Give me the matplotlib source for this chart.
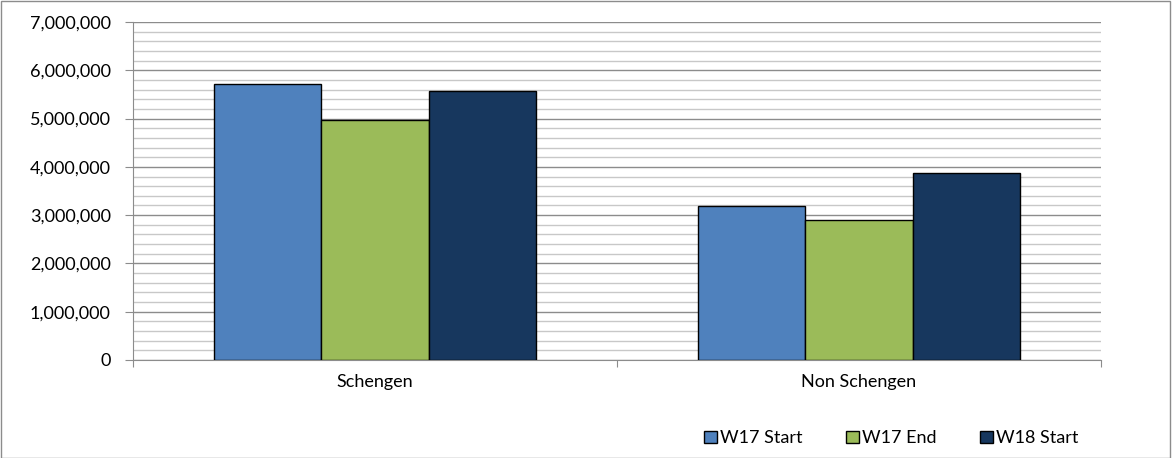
import numpy as np
import matplotlib.pyplot as plt
from matplotlib.ticker import FuncFormatter, MultipleLocator
from matplotlib.patches import Rectangle

categories = ["Schengen", "Non Schengen"]
series = ["W17 Start", "W17 End", "W18 Start"]
w17_start = [5720000, 3180000]
w17_end = [4970000, 2890000]
w18_start = [5570000, 3880000]
colors = ["#4F81BD", "#9BBB59", "#17375E"]

plt.rcParams['font.family'] = ['Lato', 'DejaVu Sans']

fig = plt.figure(figsize=(11.72, 4.58), dpi=100)
fig.patches.append(Rectangle((0.0005, 0.001), 0.998, 0.997, transform=fig.transFigure,
                             fill=False, edgecolor="#8c8c8c", linewidth=1))
ax = fig.add_axes([133 / 1172, 98 / 458, 968 / 1172, 338 / 458])

x = np.arange(len(categories))
width = 0.2222
for i, (name, vals) in enumerate(zip(series, [w17_start, w17_end, w18_start])):
    ax.bar(x + (i - 1) * width, vals, width, color=colors[i], edgecolor="black",
           linewidth=1, label=name, zorder=3)

ax.set_xlim(-0.5, 1.5)
ax.set_ylim(0, 7000000)
ax.yaxis.set_major_locator(MultipleLocator(1000000))
ax.yaxis.set_minor_locator(MultipleLocator(200000))
ax.yaxis.set_major_formatter(FuncFormatter(lambda v, p: f"{int(v):,}"))
ax.grid(which="minor", axis="y", color="#c8c8c8", linewidth=1, zorder=0)
ax.grid(which="major", axis="y", color="#8c8c8c", linewidth=1, zorder=1)

ax.set_xticks([-0.5, 0.5, 1.5])
ax.set_xticklabels([])
ax.set_xticks(x, minor=True)
ax.set_xticklabels(categories, minor=True)
ax.tick_params(axis="x", which="minor", length=0, pad=10, labelsize=13)
ax.tick_params(axis="x", which="major", length=5, color="#8c8c8c")
ax.tick_params(axis="y", which="major", length=6, color="#8c8c8c", labelsize=13, pad=10)
ax.tick_params(axis="y", which="minor", length=0)

for s in ["top", "right"]:
    ax.spines[s].set_visible(False)
for s in ["left", "bottom"]:
    ax.spines[s].set_color("#8c8c8c")

ax.legend(loc="lower right", bbox_to_anchor=(1095 / 1172, -0.01), bbox_transform=fig.transFigure,
          ncol=3, frameon=False, fontsize=13, handlelength=0.7, handleheight=0.7,
          columnspacing=2.4, handletextpad=0.2)

fig.savefig("out.png", dpi=100)
